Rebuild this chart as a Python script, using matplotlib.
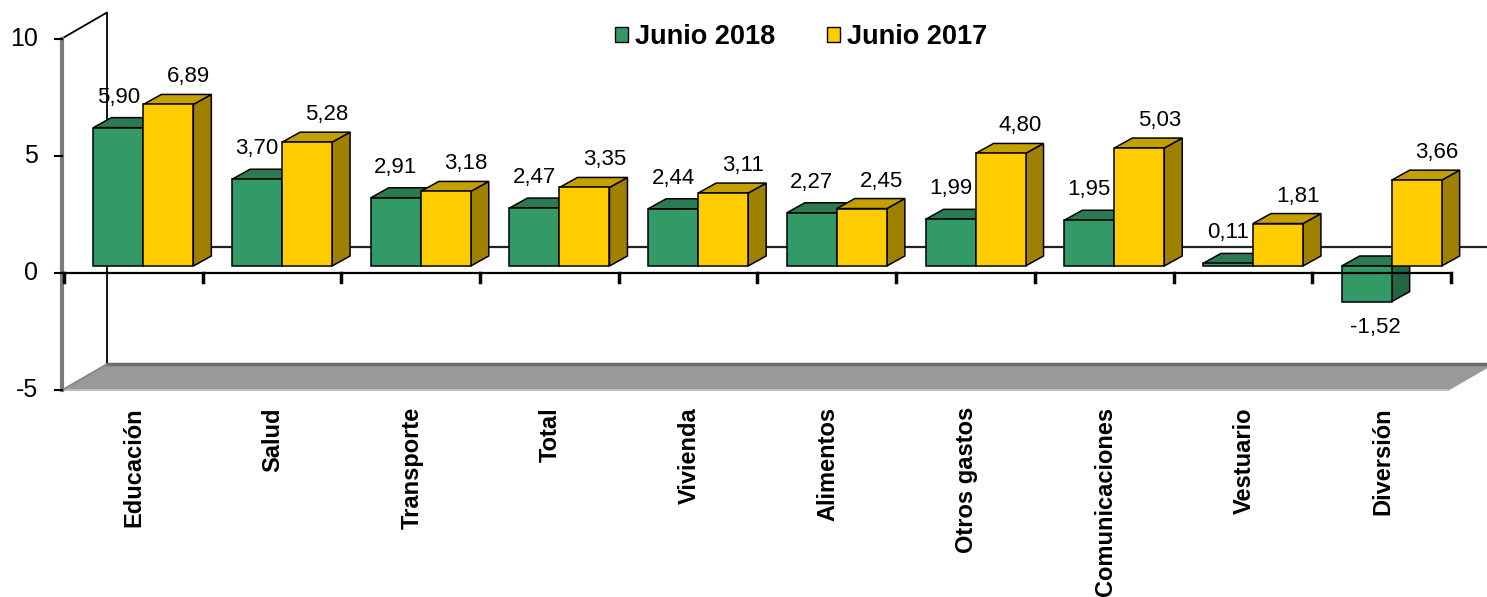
import numpy as np
from matplotlib import pyplot as plt
from matplotlib.patches import Polygon, Patch

categorias = ['Educación', 'Salud', 'Transporte', 'Total', 'Vivienda',
              'Alimentos', 'Otros gastos', 'Comunicaciones', 'Vestuario',
              'Diversión']
junio_2018 = [5.90, 3.70, 2.91, 2.47, 2.44, 2.27, 1.99, 1.95, 0.11, -1.52]
junio_2017 = [6.89, 5.28, 3.18, 3.35, 3.11, 2.45, 4.80, 5.03, 1.81, 3.66]
series = ['Junio 2018', 'Junio 2017']
ticks_y = [10, 5, 0, -5]

plt.rcParams['font.family'] = ['Liberation Sans', 'DejaVu Sans']

W, H = 1487, 597
fig = plt.figure(figsize=(W / 100, H / 100), dpi=100)
ax = fig.add_axes([0, 0, 1, 1])

# front plane: category 0 starts at x=62px, value 0 sits at y=273px
x0_px, cat_px = 62, 138.7
y0_px, unit_px = 273, 23.45
ax.set_xlim(-x0_px / cat_px, (W - x0_px) / cat_px)
ax.set_ylim((y0_px - H) / unit_px, y0_px / unit_px)
ax.axis('off')


def px_x(p):
    return p / cat_px


def px_y(p):
    return p / unit_px


n = len(categorias)
ymin, ymax = ticks_y[-1], ticks_y[0]
dx, dy = px_x(45), px_y(26)   # depth of the walls
fx, fy = px_x(12), px_y(7)    # bars sit a bit behind the front plane
bx, by = px_x(18), px_y(10)   # depth of each bar
bw = px_x(50)

colores = {
    'Junio 2018': ('#339966', '#2b7a52', '#226644'),
    'Junio 2017': ('#ffcc00', '#c49f00', '#a08000'),
}

# floor
ax.add_patch(Polygon([(0, ymin), (n, ymin), (n + dx, ymin + dy), (dx, ymin + dy)],
                     closed=True, fc='#999999', ec='none', zorder=1))
ax.plot([dx, n + dx], [ymin + dy, ymin + dy], color='#6e6e6e', lw=2.5, zorder=1.1)
ax.plot([0, n], [ymin, ymin], color='#bdbdbd', lw=1.5, zorder=1.1)

# side wall and back gridline
ax.plot([0, dx, dx], [ymax, ymax + dy, ymin + dy], color='black', lw=1.3, zorder=1.2)
ax.plot([0, dx], [ymin, ymin + dy], color='#8a8a8a', lw=1.5, zorder=1.2)
ax.plot([dx, n + dx], [dy, dy], color='#222222', lw=1.6, zorder=1.2)
ax.plot([0, 0], [ymin, ymax], color='#7a7a7a', lw=3, zorder=1.3)


def bar3d(x, v, front, top, side):
    x1, x2 = x + fx, x + fx + bw
    lo, hi = fy + min(v, 0), fy + max(v, 0)
    caras = [
        ([(x2, lo), (x2 + bx, lo + by), (x2 + bx, hi + by), (x2, hi)], side),
        ([(x1, hi), (x2, hi), (x2 + bx, hi + by), (x1 + bx, hi + by)], top),
        ([(x1, lo), (x2, lo), (x2, hi), (x1, hi)], front),
    ]
    for pts, c in caras:
        ax.add_patch(Polygon(pts, closed=True, fc=c, ec='black', lw=1.1,
                             joinstyle='miter', zorder=3))


def fmt(v):
    return f'{v:.2f}'.replace('.', ',')


gap = (1 - 2 * bw) / 2
for i in range(n):
    base = i + gap
    # green first, yellow covers its side
    bar3d(base, junio_2018[i], *colores['Junio 2018'])
    bar3d(base + bw, junio_2017[i], *colores['Junio 2017'])

    v = junio_2018[i]
    cx = base + fx + bw / 2
    if v >= 0:
        ax.text(cx, fy + v + by + px_y(10), fmt(v), ha='center', va='bottom',
                fontsize=16, zorder=5)
    else:
        ax.text(cx + px_x(9), fy + v - px_y(15), fmt(v), ha='center', va='top',
                fontsize=16, zorder=5)
    v = junio_2017[i]
    cx = base + bw + fx + bw / 2 + px_x(20)
    ax.text(cx, fy + v + by + px_y(7), fmt(v), ha='center', va='bottom',
            fontsize=16, zorder=5)

    ax.text(i + 0.5 + px_x(3), -px_y(407 - y0_px), categorias[i], rotation=90,
            ha='center', va='top', fontsize=17, fontweight='bold')

# front category axis, drawn over the bars
ax.plot([0, n], [0, 0], color='black', lw=1.6, zorder=4)
for i in range(n + 1):
    ax.plot([i + px_x(2), i + px_x(2)], [0, -px_y(9)], color='black', lw=2.5, zorder=4)

# value axis ticks
for t in ticks_y:
    ax.plot([-px_x(7), 0], [t, t], color='black', lw=1.5, zorder=4)
    ax.text(-px_x(24), t, str(t), ha='right', va='center', fontsize=18)

handles = [Patch(fc=colores[s][0], ec='black', lw=1) for s in series]
ax.legend(handles=handles, labels=series, loc='center',
          bbox_to_anchor=(801 / W, 1 - 37 / H), ncol=2, frameon=False,
          prop={'weight': 'bold', 'size': 19.5}, handlelength=0.5,
          handleheight=0.5, handletextpad=0.25, columnspacing=1.9)

fig.savefig('out.png', dpi=100)
